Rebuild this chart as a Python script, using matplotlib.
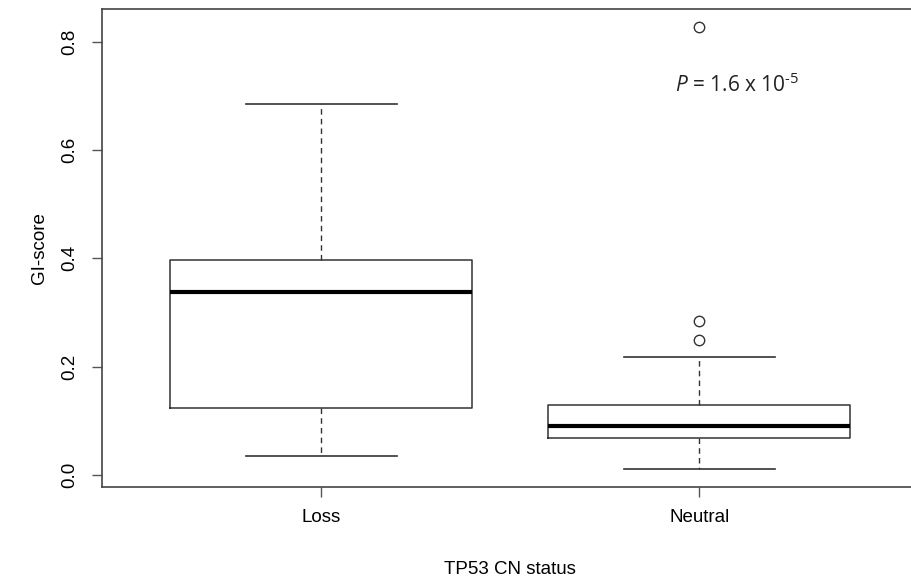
import matplotlib

matplotlib.use("Agg")
import matplotlib.pyplot as plt  # noqa: E402

# box statistics (GI-score)
groups = ["Loss", "Neutral"]
whislo = [0.035, 0.011]
q1 = [0.124, 0.068]
med = [0.338, 0.090]
q3 = [0.397, 0.129]
whishi = [0.685, 0.218]
fliers = [[], [0.285, 0.249, 0.828]]

plt.rcParams["font.family"] = ["Liberation Sans", "DejaVu Sans"]
plt.rcParams["mathtext.fontset"] = "custom"
plt.rcParams["mathtext.rm"] = "Open Sans"
plt.rcParams["mathtext.it"] = "Open Sans:italic"

fig = plt.figure(figsize=(9.12, 5.83), dpi=100)
# right frame runs just past the image edge, as in the reference
ax = fig.add_axes([0.112, 0.165, 0.895, 0.82])

stats = []
for i, g in enumerate(groups):
    stats.append({"label": g, "whislo": whislo[i], "q1": q1[i], "med": med[i],
                  "q3": q3[i], "whishi": whishi[i], "fliers": fliers[i]})

ax.bxp(stats, positions=[1, 2], widths=0.8, showfliers=True,
       boxprops=dict(color="#333333", linewidth=1.1),
       medianprops=dict(color="black", linewidth=3),
       whiskerprops=dict(color="#333333", linewidth=1.0, linestyle=(0, (4, 3))),
       capprops=dict(color="#333333", linewidth=1.2),
       capwidths=0.4,
       flierprops=dict(marker="o", markerfacecolor="none",
                       markeredgecolor="#333333", markersize=7.5,
                       markeredgewidth=1.0))

ax.set_xlim(0.42, 2.58)
ax.set_ylim(-0.022, 0.861)
ax.set_yticks([0.0, 0.2, 0.4, 0.6, 0.8])
ax.set_yticklabels(["0.0", "0.2", "0.4", "0.6", "0.8"], rotation=90, va="center")
ax.set_xticks([1, 2])
ax.set_xticklabels(groups)
ax.tick_params(direction="out", length=7, width=1, color="#555555",
               labelsize=13.5, pad=9)
ax.tick_params(axis="y", pad=10)
for s in ax.spines.values():
    s.set_color("#444444")
    s.set_linewidth(1.2)

ax.set_xlabel("TP53 CN status", fontsize=13.5, labelpad=25)
ax.set_ylabel("GI-score", fontsize=13.5, labelpad=10)

ax.text(2.10, 0.72, r"$\mathit{P}$ = 1.6 x 10$^{\text{-5}}$", fontsize=15,
        ha="center", va="center", family=["Open Sans", "DejaVu Sans"],
        color="#222222")

fig.savefig("out.png", dpi=100)
